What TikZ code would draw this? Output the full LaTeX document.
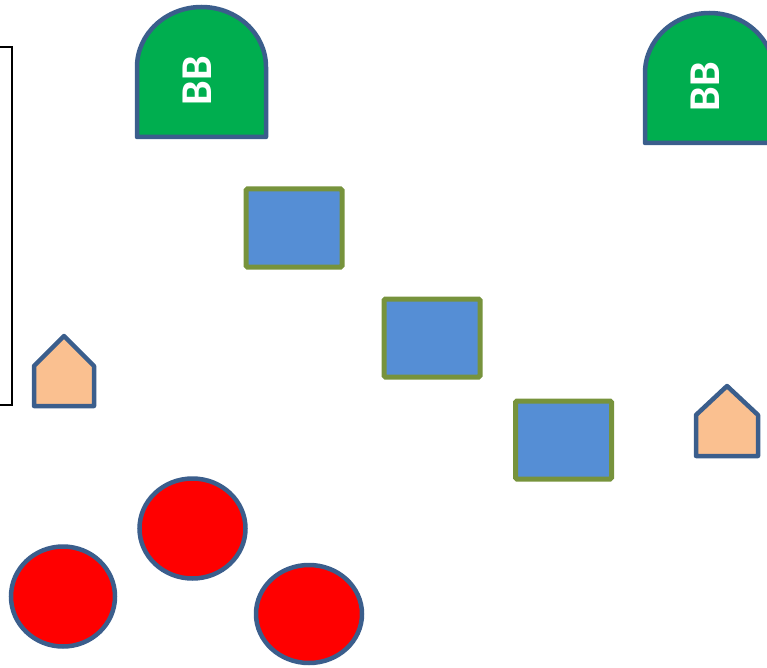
\documentclass[tikz,border=0pt]{standalone}
\usepackage{fontspec}
\setmainfont{Carlito}
\definecolor{edgeblue}{HTML}{3B5E8C}
\definecolor{archgreen}{HTML}{00AE4F}
\definecolor{boxblue}{HTML}{558ED5}
\definecolor{boxolive}{HTML}{77933C}
\definecolor{peach}{HTML}{FAC090}
\tikzset{
  arch/.style={draw=edgeblue, fill=archgreen, line width=4.5pt, line join=round},
  bluebox/.style={draw=boxolive, fill=boxblue, line width=5pt, rounded corners=1.5pt},
  house/.style={draw=edgeblue, fill=peach, line width=4.5pt, line join=round},
  redball/.style={draw=edgeblue, fill=red, line width=4.5pt},
  bblabel/.style={text=white, font=\fontsize{44}{44}\selectfont\bfseries, rotate=90, inner sep=0pt},
  bracket/.style={draw=black, line width=1.8pt}
}
\begin{document}
\begin{tikzpicture}[x=1pt,y=-1pt]
\useasboundingbox (0,0) rectangle (767,668);
% bracket
\draw[bracket] (0,47) -- (12,47) -- (12,405) -- (0,405);
% arches
\draw[arch] (137,137) -- (137,67) arc[start angle=180,end angle=360,x radius=64.5,y radius=60] -- (266,137) -- cycle;
\node[bblabel] (bb1) at (197,81) {BB};
\draw[arch] (645,143) -- (645,73) arc[start angle=180,end angle=360,x radius=64.5,y radius=60] -- (774,143) -- cycle;
\node[bblabel] (bb2) at (705,86.5) {BB};
% blue boxes
\draw[bluebox] (246,189) rectangle (342,267);
\draw[bluebox] (384,299) rectangle (480,377);
\draw[bluebox] (515.5,401) rectangle (611.5,479);
% houses
\draw[house] (34,406) -- (34,366) -- (64,336) -- (94,366) -- (94,406) -- cycle;
\draw[house] (696,456) -- (696,415) -- (727,386) -- (758,415) -- (758,456) -- cycle;
% red balls
\draw[redball] (192.5,528.5) ellipse[x radius=53, y radius=50];
\draw[redball] (63,596.5) ellipse[x radius=52, y radius=50];
\draw[redball] (309,614) ellipse[x radius=53, y radius=49];
\end{tikzpicture}
\end{document}
